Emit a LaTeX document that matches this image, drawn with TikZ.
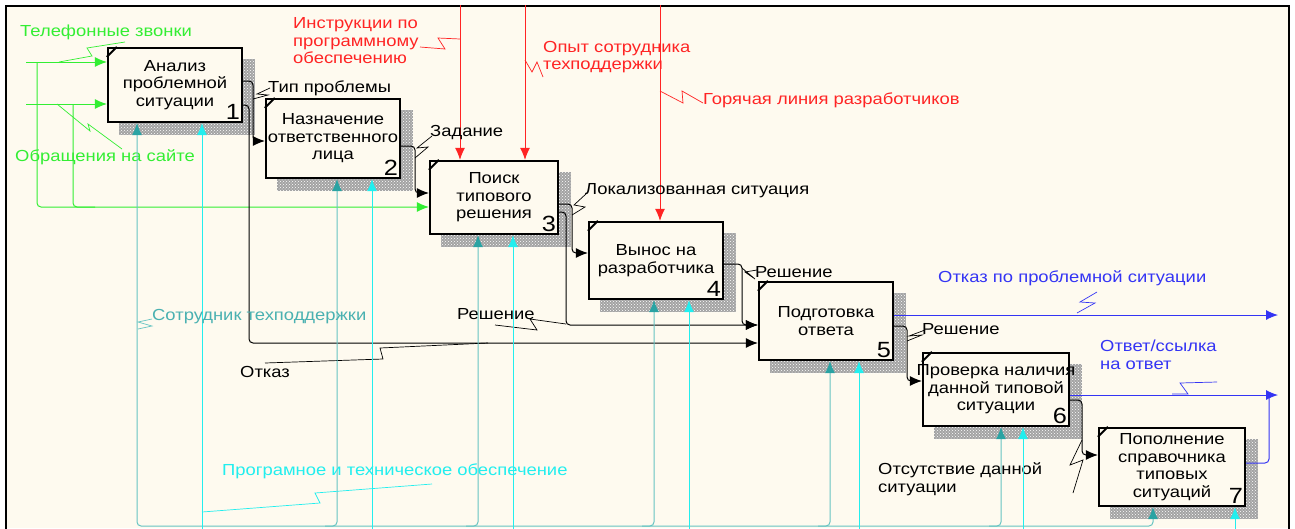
\documentclass[tikz,border=0pt]{standalone}
\usepackage{fontspec}
\setmainfont{Liberation Sans}[FakeStretch=1.15]
\usetikzlibrary{arrows.meta,patterns,backgrounds}
\definecolor{paper}{HTML}{FEFAEF}
\definecolor{ingreen}{HTML}{33EE33}
\definecolor{ctrlred}{HTML}{FF2424}
\definecolor{outblue}{HTML}{3434F4}
\definecolor{mechteal}{HTML}{66C4C2}
\definecolor{mechdark}{HTML}{2AA3A3}
\definecolor{supcyan}{HTML}{22EEEE}

\begin{document}
\begin{tikzpicture}[x=1pt, y=-1pt, >={Latex[length=12pt,width=10pt]}]
      \tikzstyle{every node}=[font=\fontsize{16}{17.5}\selectfont]
      \tikzstyle{box}=[draw, line width=2.2pt, fill=paper, align=center, inner xsep=-20pt, inner ysep=0pt]
      \tikzstyle{num}=[anchor=south east, inner sep=3pt, font=\fontsize{22}{22}\selectfont]
      \tikzstyle{lbl}=[anchor=west, inner sep=0pt, align=left]
      \tikzstyle{flow}=[line width=1pt, rounded corners=4pt]
      \tikzstyle{inp}=[flow, draw=ingreen]
      \tikzstyle{ctrl}=[flow, draw=ctrlred]
      \tikzstyle{outp}=[flow, draw=outblue]
      \tikzstyle{mech}=[flow, draw=mechteal, >={Latex[length=12pt,width=10pt,color=mechdark]}]
      \tikzstyle{supp}=[flow, draw=supcyan]
      \tikzstyle{tick}=[line width=0.7pt]
      \useasboundingbox (0,0) rectangle (1295,528);
      \begin{scope}[on background layer]
        \fill[white] (0,0) rectangle (1295,528);
        \fill[paper] (7,7) rectangle (1289,528);
        \draw[line width=2.8pt] (6,532) -- (6,6) -- (1289,6) -- (1289,532);
      \end{scope}
      %% activities
\node (b1) at (175,85) [box, minimum width=134pt, minimum height=74pt] {Анализ\\проблемной\\ситуации};
  \node (b2) at (333,138.5) [box, minimum width=134pt, minimum height=79pt] {Назначение\\ответственного\\лица};
  \node (b3) at (494,197.5) [box, minimum width=128pt, minimum height=73pt] {Поиск\\типового\\решения};
  \node (b4) at (656,260.5) [box, minimum width=134pt, minimum height=77pt] {Вынос на\\разработчика};
  \node (b5) at (826,321) [box, minimum width=134pt, minimum height=78pt] {Подготовка\\ответа};
  \node (b6) at (996,389.5) [box, minimum width=146pt, minimum height=73pt] {Проверка наличия\\данной типовой\\ситуации};
  \node (b7) at (1172,467) [box, minimum width=146pt, minimum height=78pt] {Пополнение\\справочника\\типовых\\ситуаций};
  \foreach \i in {1,...,7} {
    \node (n\i) at (b\i.south east) [num] {\i};
    \draw[line width=2pt] ([yshift=-10pt]b\i.north west) -- ([xshift=10pt]b\i.north west);
    \begin{scope}[on background layer]
      \fill[black!36] ([shift={(12pt,-12pt)}]b\i.south west) rectangle ([shift={(12pt,-12pt)}]b\i.north east);
      \fill[pattern=crosshatch dots, pattern color=white] ([shift={(12pt,-12pt)}]b\i.south west) rectangle ([shift={(12pt,-12pt)}]b\i.north east);
    \end{scope}
  }
%% inputs
  \coordinate (i1) at (26,62);
  \coordinate (i2) at (26,104);
  \coordinate (j1) at (37,62);
  \coordinate (j2) at (73,104);
  \coordinate (j3) at (37,207);
  \coordinate (j4) at (95,207);
  \draw[inp, ->] (i1) -- (b1.west |- i1);
  \draw[inp, ->] (i2) -- (b1.west |- i2);
  \draw[inp, ->] (j1) -- (j3) -- (b3.west |- j3);
  \draw[inp] (j2) -- (j2 |- j3) -- (j4);
  \node (ltel) at (20,32) [lbl, text=ingreen] {Телефонные звонки};
  \node (lobr) at (15,157) [lbl, text=ingreen] {Обращения на сайте};
  \draw[tick, ingreen] (59,62) -- (92,56) -- (87,48) -- (125,42);
  \draw[tick, ingreen] (57,104) -- (90,131) -- (88,124) -- (122,149);
%% controls
  \coordinate (k1) at (460,5);
  \coordinate (k2) at (525,5);
  \coordinate (k3) at (660,5);
  \draw[ctrl, ->] (k1) -- (k1 |- b3.north);
  \draw[ctrl, ->] (k2) -- (k2 |- b3.north);
  \draw[ctrl, ->] (k3) -- (k3 |- b4.north);
  \node (lins) at (293,41) [lbl, text=ctrlred] {Инструкции по\\программному\\обеспечению};
  \node (lopt) at (543,57) [lbl, text=ctrlred] {Опыт сотрудника\\техподдержки};
  \node (lhot) at (703,100) [lbl, text=ctrlred] {Горячая линия разработчиков};
  \draw[tick, ctrlred] (460,39) -- (438,38) -- (445,49) -- (420,47);
  \draw[tick, ctrlred] (525,60) -- (532,72) -- (537,62) -- (543,77);
  \draw[tick, ctrlred] (660,91) -- (683,103) -- (682,91) -- (703,103);
%% black flows
  \draw[flow, ->] (b1.east |- 0,81) -- (253,81) -- (253,141) -- (b2.west |- 0,141);
  \draw[flow, ->] (b1.east |- 0,105) -- (249,105) -- (249,343) -- (b5.west |- 0,343);
  \draw[flow, ->] (b2.east |- 0,146) -- (415,146) -- (415,193) -- (b3.west |- 0,193);
  \draw[flow, ->] (b3.east |- 0,204) -- (572,204) -- (572,253) -- (b4.west |- 0,253);
  \draw[flow, ->] (b3.east |- 0,212) -- (566,212) -- (566,325) -- (b5.west |- 0,325);
  \draw[flow, ->] (b4.east |- 0,264) -- (742,264) -- (742,325) -- (b5.west |- 0,325);
  \draw[flow, ->] (b5.east |- 0,326) -- (907,326) -- (907,381) -- (b6.west |- 0,381);
  \draw[flow, ->] (b6.east |- 0,400) -- (1082,400) -- (1082,455) -- (b7.west |- 0,455);
  \node (ltip) at (268,88) [lbl] {Тип проблемы};
  \node (lzad) at (430,133) [lbl] {Задание};
  \node (lloc) at (585,191) [lbl] {Локализованная ситуация};
  \node (lres1) at (457,314) [lbl] {Решение};
  \node (lres2) at (755,272) [lbl] {Решение};
  \node (lres3) at (922,329) [lbl] {Решение};
  \node (lotk) at (240,372) [lbl] {Отказ};
  \node (lots) at (878,479) [lbl] {Отсутствие данной\\ситуации};
  \draw[tick] (253,99) -- (268,95) -- (257,94) -- (270,88);
  \draw[tick] (415,158) -- (428,147) -- (417,148) -- (432,136);
  \draw[tick] (572,215) -- (585,207) -- (574,205) -- (587,193);
  \draw[tick] (495,325) -- (537,330) -- (530,319) -- (566,324);
  \draw[tick] (742,268) -- (755,279) -- (745,272) -- (757,270);
  \draw[tick] (907,341) -- (922,335) -- (909,336) -- (925,330);
  \draw[tick] (265,363) -- (383,359) -- (380,348) -- (488,343);
  \draw[tick] (1073,493) -- (1083,460) -- (1070,465) -- (1082,440);
%% outputs
  \coordinate (o1) at (1278,315);
  \coordinate (o2) at (1278,395);
  \coordinate (o3) at (1269,395);
  \draw[outp, ->] (b5.east |- o1) -- (o1);
  \draw[outp, ->] (b6.east |- o2) -- (o2);
  \draw[outp] (b7.east |- 0,463) -- (1269,463) -- (o3);
  \node (lout1) at (938,278) [lbl, text=outblue] {Отказ по проблемной ситуации};
  \node (lout2) at (1100,355) [lbl, text=outblue] {Ответ/ссылка\\на ответ};
  \draw[tick, outblue] (1077,313) -- (1095,303) -- (1080,302) -- (1097,292);
  \draw[tick, outblue] (1172,394) -- (1188,394) -- (1180,383) -- (1217,382);
%% mechanisms
  \coordinate (t1) at (137,526);
  \coordinate (t2) at (337,526);
  \coordinate (t3) at (478,526);
  \coordinate (t4) at (654,526);
  \coordinate (t5) at (830,526);
  \coordinate (t6) at (1001,526);
  \coordinate (t7) at (1153,526);
  \coordinate (s1) at (202,532);
  \coordinate (s2) at (372,532);
  \coordinate (s3) at (513,532);
  \coordinate (s4) at (689,532);
  \coordinate (s5) at (859,532);
  \coordinate (s6) at (1023,532);
  \coordinate (s7) at (1235,532);
  \draw[mech, <->] (t1 |- b1.south) -- (t1) -- (t7) -- (t7 |- b7.south);
  \foreach \i in {2,...,6}
    \draw[mech, ->] ([xshift=-12pt]t\i) -- (t\i) -- (t\i |- b\i.south);
  \foreach \i in {1,...,7}
    \draw[supp, ->] (s\i) -- (s\i |- b\i.south);
  \node (lsot) at (152,317) [lbl, text=mechdark!85] {Сотрудник техподдержки};
  \node (lpro) at (222,471) [lbl, text=supcyan] {Програмное и техническое обеспечение};
  \draw[tick, mechteal] (138,329) -- (152,326) -- (138,322) -- (152,319);
  \draw[tick, supcyan] (202,512) -- (320,503) -- (315,493) -- (432,484);
%
    \end{tikzpicture}
\end{document}
